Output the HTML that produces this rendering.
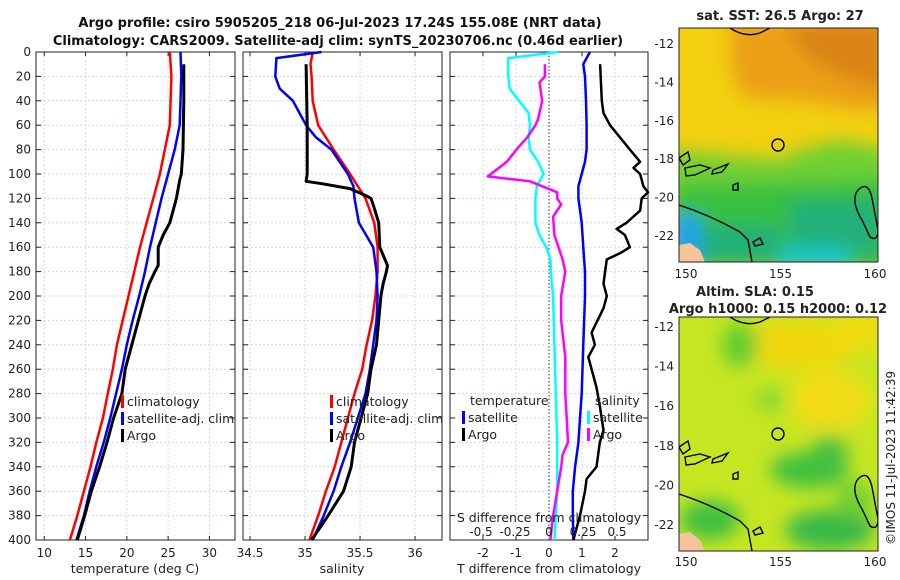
<!DOCTYPE html>
<html><head><meta charset="utf-8"><style>
body{margin:0;background:#fff;}
svg{display:block;font-family:"DejaVu Sans","Liberation Sans",sans-serif;}
</style></head><body>
<svg id="chart" width="900" height="580" viewBox="0 0 900 580" xmlns="http://www.w3.org/2000/svg">
<defs>
<filter id="blur" x="-20%" y="-20%" width="140%" height="140%"><feGaussianBlur stdDeviation="9"/></filter>
<clipPath id="clipTop"><rect x="679" y="28" width="199" height="234"/></clipPath>
<clipPath id="clipBot"><rect x="679" y="317" width="199" height="234"/></clipPath>
</defs>
<g font-weight="bold" font-size="13" fill="#111" text-anchor="middle">
<text x="340" y="27">Argo profile: csiro 5905205_218 06-Jul-2023 17.24S 155.08E (NRT data)</text>
<text x="338" y="45">Climatology: CARS2009. Satellite-adj clim: synTS_20230706.nc (0.46d earlier)</text>
</g>
<g id="plots"></g>

<!-- top map -->
<g>
<g clip-path="url(#clipTop)">
<rect x="679" y="28" width="199" height="234" fill="#f2d010"/>
<g filter="url(#blur)">
<polygon points="730,20 890,20 890,110 860,110 830,105 800,100 770,100 740,95 730,60" fill="#eba018"/>
<polygon points="780,20 890,20 890,90 850,80 810,60" fill="#da8418"/>
<rect x="670" y="170" width="230" height="100" fill="#38c040"/>
<polygon points="670,150 780,160 800,150 840,140 890,150 890,180 670,185" fill="#70d030"/>
<rect x="790" y="200" width="90" height="55" fill="#20b078"/>
<rect x="700" y="225" width="80" height="35" fill="#20b078"/>
<rect x="780" y="248" width="70" height="20" fill="#10c8d0"/>
<rect x="670" y="215" width="30" height="50" fill="#20a0f0"/>
</g>
<polygon points="679,245 690,243 700,250 705,262 679,262" fill="#f5c49a"/>
<g fill="none" stroke="#000" stroke-width="1.4">
<path d="M730,28 Q745,38 760,33 L770,28"/>
<path d="M679,158 L688,152 L690,160 L683,165 Z"/>
<path d="M685,168 L700,165 L710,168 L695,175 L686,176 Z"/>
<path d="M713,170 L728,164 L722,172 L712,174 Z"/>
<path d="M679,205 Q710,215 740,232 L748,240 L752,262"/>
<path d="M753,242 L760,238 L763,244 L755,246 Z"/>
<path d="M733,185 L738,183 L738,190 L733,190 Z"/>
<path d="M858,190 Q868,180 872,198 L878,230 Q878,242 870,237 L862,220 Q850,200 858,190 Z"/>
<circle cx="778" cy="145" r="6"/>
</g>
</g>
<rect x="679" y="28" width="199" height="234" fill="none" stroke="#222" stroke-width="1"/>
</g>

<!-- bottom map -->
<g>
<g clip-path="url(#clipBot)">
<rect x="679" y="317" width="199" height="234" fill="#c6e622"/>
<g filter="url(#blur)">
<ellipse cx="800" cy="345" rx="60" ry="25" fill="#f0d810"/>
<ellipse cx="830" cy="400" rx="40" ry="30" fill="#f2dc14"/>
<ellipse cx="860" cy="330" rx="25" ry="20" fill="#f0dc10"/>
<ellipse cx="740" cy="345" rx="18" ry="22" fill="#60cc30"/>
<ellipse cx="810" cy="470" rx="40" ry="18" fill="#40c040"/>
<ellipse cx="830" cy="450" rx="18" ry="14" fill="#48c040"/>
<ellipse cx="830" cy="530" rx="45" ry="20" fill="#38b848"/>
<ellipse cx="710" cy="520" rx="30" ry="20" fill="#40c040"/>
<ellipse cx="770" cy="400" rx="15" ry="12" fill="#88d830"/>
<ellipse cx="855" cy="500" rx="20" ry="18" fill="#70d030"/>
</g>
<polygon points="679,534 690,532 700,540 705,551 679,551" fill="#f5c49a"/>
<g fill="none" stroke="#000" stroke-width="1.4">
<path d="M730,317 Q745,327 760,322 L770,317"/>
<path d="M679,447 L688,441 L690,449 L683,454 Z"/>
<path d="M685,457 L700,454 L710,457 L695,464 L686,465 Z"/>
<path d="M713,459 L728,453 L722,461 L712,463 Z"/>
<path d="M679,494 Q710,504 740,521 L748,529 L752,551"/>
<path d="M753,531 L760,527 L763,533 L755,535 Z"/>
<path d="M733,474 L738,472 L738,479 L733,479 Z"/>
<path d="M858,479 Q868,469 872,487 L878,519 Q878,531 870,526 L862,509 Q850,489 858,479 Z"/>
<circle cx="778" cy="434" r="6"/>
</g>
</g>
<rect x="679" y="317" width="199" height="234" fill="none" stroke="#222" stroke-width="1"/>
</g>

<g font-size="12" fill="#222">
<text x="780" y="20" text-anchor="middle" font-weight="bold" font-size="13">sat. SST: 26.5 Argo: 27</text>
<text x="755" y="296" text-anchor="middle" font-weight="bold" font-size="13">Altim. SLA: 0.15</text>
<text x="778" y="313" text-anchor="middle" font-weight="bold" font-size="13">Argo h1000: 0.15 h2000: 0.12</text>
<text transform="translate(895,545) rotate(-90)" font-size="12">©IMOS 11-Jul-2023 11:42:39</text>
</g>
<g id="mapticks" font-size="12" fill="#222"></g>
</svg>
<script>
// ---------- data ----------
const tClimDepth=[0,20,40,60,70,80,100,120,140,160,180,200,220,240,260,280,300,320,340,360,380,400];
const tClimVal=[25.2,25.4,25.3,25.2,24.9,24.6,24.0,23.2,22.4,21.6,20.9,20.2,19.5,18.8,18.3,17.7,17.1,16.3,15.6,14.8,14.0,13.1];
const tSatDepth=[0,20,40,60,80,100,120,140,160,180,200,220,240,260,280,300,320,340,360,380,400];
const tSatVal=[26.5,26.6,26.5,26.4,25.8,25.0,24.2,23.5,22.8,22.2,21.5,20.7,20.0,19.4,18.7,18.0,17.2,16.3,15.5,14.8,13.9];
const tArgoDepth=[10,40,80,100,105,120,140,150,160,175,180,190,200,220,240,260,280,300,320,340,360,380,400];
const tArgoVal=[26.9,26.9,26.8,26.6,26.4,26.0,25.2,24.4,23.8,23.8,23.4,22.7,22.2,21.4,20.6,19.8,19.4,18.4,17.6,16.7,15.7,14.9,14.0];

const sClimDepth=[0,10,20,40,60,80,100,120,140,160,180,200,220,240,260,280,300,320,340,360,380,400];
const sClimVal=[35.07,35.05,35.06,35.07,35.12,35.26,35.41,35.55,35.63,35.66,35.66,35.64,35.61,35.56,35.52,35.45,35.39,35.33,35.27,35.19,35.12,35.04];
const sSatDepth=[0,5,20,30,40,50,60,70,80,100,110,120,140,160,180,200,220,240,260,280,300,320,340,360,380,400];
const sSatVal=[35.15,34.74,34.73,34.77,34.89,34.95,35.01,35.10,35.24,35.39,35.44,35.45,35.49,35.62,35.65,35.66,35.65,35.62,35.59,35.55,35.48,35.41,35.33,35.26,35.17,35.07];
const sArgoDepth=[10,60,100,106,108,112,118,120,128,140,160,175,180,190,200,220,240,260,280,300,320,340,360,380,400];
const sArgoVal=[35.01,35.02,35.02,35.01,35.16,35.41,35.56,35.60,35.63,35.67,35.68,35.75,35.74,35.71,35.69,35.67,35.65,35.60,35.57,35.51,35.45,35.42,35.35,35.21,35.06];

const dsSatDepth=[0,5,20,30,50,60,70,80,90,100,110,120,140,150,160,170,190,200,240,280,320,360,400];
const dsSatVal=[0.07,-0.30,-0.30,-0.29,-0.15,-0.14,-0.15,-0.14,-0.08,-0.04,-0.09,-0.10,-0.10,-0.07,-0.02,0.01,0.02,0.03,0.04,0.05,0.06,0.06,0.04];
const dsArgoDepth=[10,20,25,40,55,60,70,80,90,102,106,115,120,125,135,150,160,170,180,200,220,250,280,300,320,330,340,360,380,390,400];
const dsArgoVal=[-0.03,-0.03,-0.07,-0.05,-0.08,-0.10,-0.16,-0.24,-0.31,-0.45,-0.14,0.06,0.06,0.09,0.03,0.04,0.07,0.10,0.12,0.09,0.09,0.12,0.12,0.13,0.14,0.10,0.09,0.06,0.03,0.02,0.01];
const dtSatDepth=[0,10,20,40,60,80,90,100,110,120,140,160,180,200,240,280,300,320,340,360,380,400];
const dtSatVal=[1.24,1.04,1.09,1.12,1.14,1.14,1.09,0.99,0.89,0.89,0.99,1.04,1.09,1.09,1.04,0.99,0.94,0.89,0.79,0.72,0.72,0.74];
const dtArgoDepth=[10,40,50,60,70,80,90,95,100,110,115,120,130,140,145,150,160,165,170,180,190,200,210,230,240,250,260,275,290,310,320,340,350,360,380,400];
const dtArgoVal=[1.55,1.60,1.65,1.85,2.15,2.45,2.76,2.56,2.76,2.86,3.0,2.81,2.76,2.35,2.05,2.30,2.45,2.15,1.75,1.70,1.65,1.75,1.65,1.29,1.39,1.19,1.29,1.44,1.54,1.65,1.54,1.44,1.14,1.09,0.94,0.74];

const depthTicks=[0,20,40,60,80,100,120,140,160,180,200,220,240,260,280,300,320,340,360,380,400];
const tTicks=[10,15,20,25,30];
const sTicks=[34.5,35,35.5,36];
const sTickLabels=["34.5","35","35.5","36"];
const dtTicks=[-2,-1,0,1,2];
const dsTicks=[-0.5,-0.25,0,0.25,0.5];
const dsTickLabels=["-0.5","-0.25","0","0.25","0.5"];
const latTicks=[-12,-14,-16,-18,-20,-22];
const lonTicks=[150,155,160];

// ---------- drawing ----------
const NS="http://www.w3.org/2000/svg";
const root=document.getElementById('plots');
const Y0=52,Y1=540;
function yD(d){return Y0+(d/400)*(Y1-Y0);}
function mk(tag,attrs,parent){const e=document.createElementNS(NS,tag);for(const k in attrs)e.setAttribute(k,attrs[k]);(parent||root).appendChild(e);return e;}
function scale(x0,x1,mn,mx){return v=>x0+(v-mn)/(mx-mn)*(x1-x0);}
const P1={x0:36,x1:235},P2={x0:243,x1:442},P3={x0:450,x1:648};
const xT=scale(P1.x0,P1.x1,9,33.1);
const xS=scale(P2.x0,P2.x1,34.436,36.245);
const xDT=scale(P3.x0,P3.x1,-3,3);
const xDS=scale(P3.x0,P3.x1,-0.728,0.728);

function frame(P,name,vgrid,xf){
  const g=mk('g',{});
  
  
  vgrid.forEach(v=>{const l=mk('line',{x1:xf(v),x2:xf(v),y1:Y0,y2:Y1,stroke:'#d2d8ef','stroke-width':1,'stroke-dasharray':'2,2'},g);
    
    
    mk('line',{x1:xf(v),x2:xf(v),y1:Y1,y2:Y1-4,stroke:'#222'},g);
    mk('line',{x1:xf(v),x2:xf(v),y1:Y0,y2:Y0+4,stroke:'#222'},g);});
  depthTicks.forEach(d=>{const l=mk('line',{x1:P.x0,x2:P.x1,y1:yD(d),y2:yD(d),stroke:'#d2d8ef','stroke-width':1,'stroke-dasharray':'2,2'},g);
    
    
    mk('line',{x1:P.x0,x2:P.x0+5,y1:yD(d),y2:yD(d),stroke:'#222'},g);
    mk('line',{x1:P.x1,x2:P.x1-5,y1:yD(d),y2:yD(d),stroke:'#222'},g);});
  const r=mk('rect',{x:P.x0,y:Y0,width:P.x1-P.x0,height:Y1-Y0,fill:'none',stroke:'#222','stroke-width':1},g);
  
  
  return g;
}
function line(ds,vs,xf,color,w,name){
  const pts=ds.map((d,i)=>xf(vs[i]).toFixed(1)+','+yD(d).toFixed(1)).join(' ');
  const p=mk('polyline',{points:pts,fill:'none',stroke:color,'stroke-width':w,'stroke-linejoin':'round'});
  
  
}
function text(x,y,s,name,anchor,size){
  const t=mk('text',{x:x,y:y,'font-size':size||12.5,fill:'#222','text-anchor':anchor||'start'});
  t.textContent=s;
  
  
  return t;
}
function legend(x,y,items){
  items.forEach((it,i)=>{
    const r=mk('rect',{x:x,y:y+i*17-11,width:3,height:13,fill:it[1]});
    
    
    text(x+6,y+i*17,it[0],'legend-entry','start',12.5);
  });
}

// panel 1
frame(P1,'temperature-panel',tTicks,xT);
line(tClimDepth,tClimVal,xT,'#f00',2.5,'temp-climatology-line');
line(tSatDepth,tSatVal,xT,'#00f',2.5,'temp-satellite-line');
line(tArgoDepth,tArgoVal,xT,'#000',3,'temp-argo-line');
depthTicks.forEach(d=>text(31,yD(d)+4,String(d),'depth-tick-label','end',12));
tTicks.forEach(v=>text(xT(v),557,String(v),'temp-tick-label','middle',12));
text(135,573,'temperature (deg C)','temp-x-axis-title','middle',12.5);
legend(121,406,[['climatology','#f00'],['satellite-adj. clim','#00f'],['Argo','#000']]);

// panel 2
frame(P2,'salinity-panel',sTicks,xS);
line(sClimDepth,sClimVal,xS,'#f00',2.5,'sal-climatology-line');
line(sSatDepth,sSatVal,xS,'#00f',2.5,'sal-satellite-line');
line(sArgoDepth,sArgoVal,xS,'#000',3,'sal-argo-line');
sTicks.forEach((v,i)=>text(xS(v),557,sTickLabels[i],'sal-tick-label','middle',12));
text(342,573,'salinity','sal-x-axis-title','middle',12.5);
legend(330,406,[['climatology','#f00'],['satellite-adj. clim','#00f'],['Argo','#000']]);

// panel 3
frame(P3,'difference-panel',[-2,-1,1,2],xDT);
const zl=mk('line',{x1:xDT(0),x2:xDT(0),y1:Y0,y2:Y1,stroke:'#333','stroke-width':1,'stroke-dasharray':'1.5,2'});


line(dsSatDepth,dsSatVal,xDS,'#0ff',2.5,'sdiff-satellite-line');
line(dsArgoDepth,dsArgoVal,xDS,'#f0f',2.5,'sdiff-argo-line');
line(dtSatDepth,dtSatVal,xDT,'#00f',2.5,'tdiff-satellite-line');
line(dtArgoDepth,dtArgoVal,xDT,'#000',2.5,'tdiff-argo-line');
dtTicks.forEach(v=>text(xDT(v),557,String(v),'tdiff-tick-label','middle',12));
text(549,573,'T difference from climatology','tdiff-x-axis-title','middle',12.5);
text(549,522,'S difference from climatology','sdiff-axis-title','middle',12.5);
dsTicks.forEach((v,i)=>text(xDS(v),536,dsTickLabels[i],'sdiff-tick-label','middle',12));
text(470,405,'temperature','legend-title-temperature','start',12.5);
text(595,405,'salinity','legend-title-salinity','start',12.5);
legend(462,422,[['satellite','#00f'],['Argo','#000']]);
legend(587,422,[['satellite','#0ff'],['Argo','#f0f']]);

// map ticks
const mt=document.getElementById('mapticks');
function mtext(x,y,s,name,anchor){const t=mk('text',{x:x,y:y,'text-anchor':anchor},mt);t.textContent=s;
  
  }
const latYTop=v=>44+(-12-v)*19.2;
const latYBot=v=>327+(-12-v)*19.8;
const lonX=v=>686+(v-150)*18.9;
latTicks.forEach(v=>{mtext(674,latYTop(v)+4,String(v),'sst-lat-label','end');mtext(674,latYBot(v)+4,String(v),'sla-lat-label','end');});
lonTicks.forEach(v=>{mtext(lonX(v),278,String(v),'sst-lon-label','middle');mtext(lonX(v),566,String(v),'sla-lon-label','middle');});
</script>
</body></html>
